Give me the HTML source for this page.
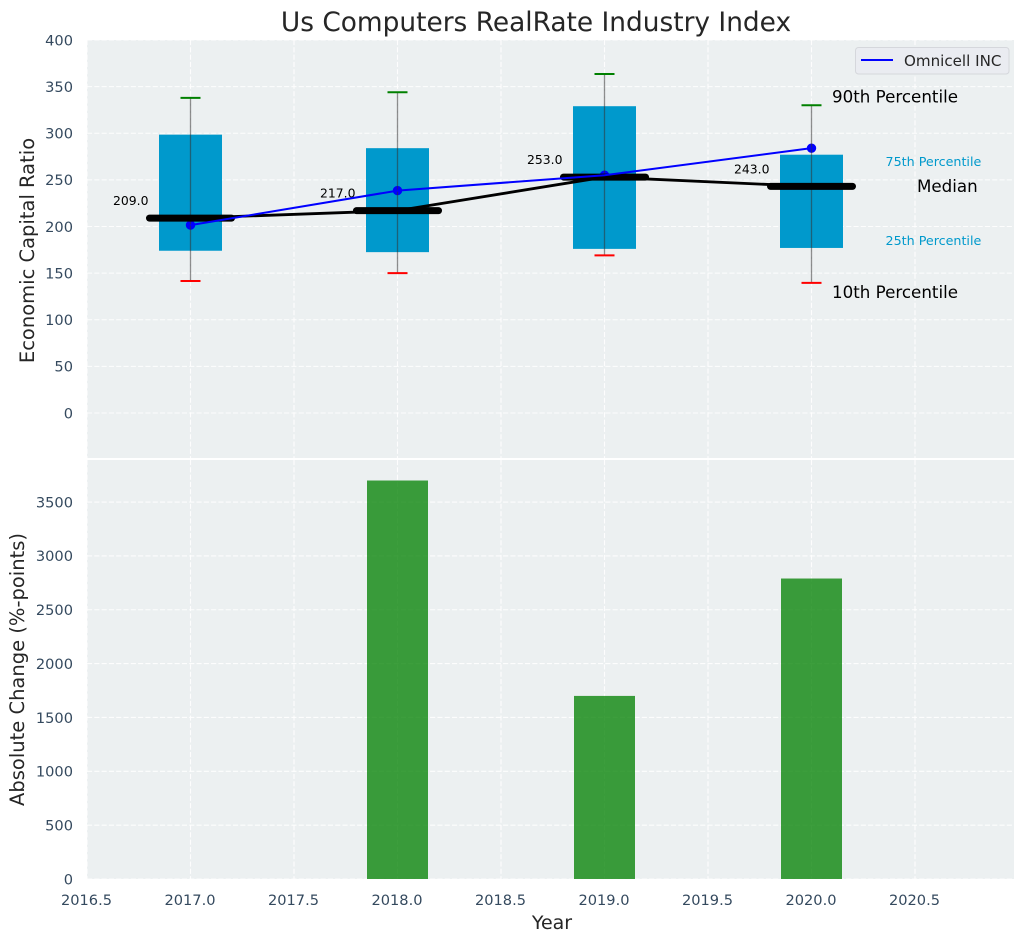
<!DOCTYPE html>
<html>
<head>
<meta charset="utf-8">
<title>Us Computers RealRate Industry Index</title>
<style>
html,body{margin:0;padding:0;background:#fff;width:1026px;height:942px;overflow:hidden}
svg{display:block}
text{font-family:"DejaVu Sans","Liberation Sans",sans-serif}
</style>
</head>
<body>
<svg id="chart" xmlns="http://www.w3.org/2000/svg" width="1026" height="942" viewBox="0 0 1026 942">
  <rect x="87" y="40" width="927" height="418" fill="#ecf0f1"/>
  <rect x="87" y="460" width="927" height="419" fill="#ecf0f1"/>
  <g id="grid"></g>
  <g id="top-marks"></g>
  <g id="bottom-marks"></g>
  <g id="ticks"></g>
  <text x="536" y="31" text-anchor="middle" font-size="26.4" fill="#262626">Us Computers RealRate Industry Index</text>
  <text transform="translate(34 250.5) rotate(-90)" text-anchor="middle" font-size="19.5" fill="#262626">Economic Capital Ratio</text>
  <text transform="translate(24 669.5) rotate(-90)" text-anchor="middle" font-size="19.5" fill="#262626">Absolute Change (%-points)</text>
  <text x="552" y="929" text-anchor="middle" font-size="19" fill="#262626">Year</text>
  <g>
    <rect x="855.5" y="47.5" width="153.5" height="26.5" rx="3" fill="#eaecf1" stroke="#d5d7dc" stroke-width="1"/>
    <line x1="861" x2="893" y1="60" y2="60" stroke="#0000ff" stroke-width="2"/>
    <text x="904" y="66" font-size="15.1" fill="#262626">Omnicell INC</text>
  </g>
</svg>
<script>
const years = [2017, 2018, 2019, 2020];
const p90 = [338, 344, 363.5, 330];
const p75 = [298.5, 284, 329, 277];
const medians = [209, 217, 253, 243];
const p25 = [174, 172.5, 176, 177];
const p10 = [141.5, 150, 169, 139.5];
const companyValues = [201.5, 238.5, 255, 284];
const changeYears = [2018, 2019, 2020];
const changeValues = [3700, 1700, 2790];
const xTicks = [2016.5, 2017, 2017.5, 2018, 2018.5, 2019, 2019.5, 2020, 2020.5];
const topYTicks = [0, 50, 100, 150, 200, 250, 300, 350, 400];
const bottomYTicks = [0, 500, 1000, 1500, 2000, 2500, 3000, 3500];

const NS = 'http://www.w3.org/2000/svg';
function xs(v) { return 87 + (v - 2016.5) * 207; }
function yTop(v) { return 413 - v * 0.9325; }
function yBot(v) { return 879 - v * 0.1077; }
function mk(parent, tag, attrs, txt) {
  const el = document.createElementNS(NS, tag);
  for (const k in attrs) el.setAttribute(k, attrs[k]);
  if (txt !== undefined) el.textContent = txt;
  parent.appendChild(el);
  return el;
}
const grid = document.getElementById('grid');
const top_ = document.getElementById('top-marks');
const bot = document.getElementById('bottom-marks');
const ticks = document.getElementById('ticks');
const gridStyle = { stroke: '#ffffff', 'stroke-width': 1.1, 'stroke-dasharray': '5.1 2.2', opacity: 0.9 };
const tickFont = 14.6;

xTicks.forEach(function (t) {
  const a = mk(grid, 'line', Object.assign({ x1: xs(t), x2: xs(t), y1: 40, y2: 458 }, gridStyle));
  
  
  const b = mk(grid, 'line', Object.assign({ x1: xs(t), x2: xs(t), y1: 460, y2: 879 }, gridStyle));
  
  
  const l = mk(ticks, 'text', { x: xs(t) - 0.5, y: 905, 'text-anchor': 'middle', 'font-size': tickFont, fill: '#34495e' }, t.toFixed(1));
  
  
});
topYTicks.forEach(function (t) {
  const g = mk(grid, 'line', Object.assign({ x1: 87, x2: 1014, y1: yTop(t), y2: yTop(t) }, gridStyle));
  
  
  const l = mk(ticks, 'text', { x: 73, y: yTop(t) + 5.3, 'text-anchor': 'end', 'font-size': tickFont, fill: '#34495e' }, String(t));
  
  
});
bottomYTicks.forEach(function (t) {
  const g = mk(grid, 'line', Object.assign({ x1: 87, x2: 1014, y1: yBot(t), y2: yBot(t) }, gridStyle));
  
  
  const l = mk(ticks, 'text', { x: 73, y: yBot(t) + 5.3, 'text-anchor': 'end', 'font-size': tickFont, fill: '#34495e' }, String(t));
  
  
});

/* boxes */
years.forEach(function (yr, i) {
  const box = mk(top_, 'rect', { x: xs(yr) - 31.5, y: yTop(p75[i]), width: 63, height: yTop(p25[i]) - yTop(p75[i]), fill: '#0099cc' });
  
  
});
/* company markers sit below the medians */
years.forEach(function (yr, i) {
  const d = mk(top_, 'circle', { cx: xs(yr), cy: yTop(companyValues[i]), r: 4.7, fill: '#0000ff' });
  
  
});
/* whiskers */
years.forEach(function (yr, i) {
  const w = mk(top_, 'line', { x1: xs(yr), x2: xs(yr), y1: yTop(p90[i]), y2: yTop(p10[i]), stroke: '#333333', 'stroke-opacity': 0.55, 'stroke-width': 1.3 });
  
  
  const c1 = mk(top_, 'line', { x1: xs(yr) - 10, x2: xs(yr) + 10, y1: yTop(p90[i]), y2: yTop(p90[i]), stroke: '#008000', 'stroke-width': 2 });
  
  
  const c2 = mk(top_, 'line', { x1: xs(yr) - 10, x2: xs(yr) + 10, y1: yTop(p10[i]), y2: yTop(p10[i]), stroke: '#ff0000', 'stroke-width': 2 });
  
  
});
/* median connection */
const medLine = mk(top_, 'polyline', { points: years.map(function (yr, i) { return xs(yr) + ',' + yTop(medians[i]); }).join(' '), fill: 'none', stroke: '#000000', 'stroke-width': 2.8 });


years.forEach(function (yr, i) {
  const m = mk(top_, 'line', { x1: xs(yr) - 41, x2: xs(yr) + 41, y1: yTop(medians[i]), y2: yTop(medians[i]), stroke: '#000000', 'stroke-width': 7, 'stroke-linecap': 'round' });
  
  
  const l = mk(top_, 'text', { x: xs(yr) - 77.5, y: yTop(medians[i]) - 13, 'font-size': 12.4, fill: '#000000' }, medians[i].toFixed(1));
  
  
});
/* company line */
const compLine = mk(top_, 'polyline', { points: years.map(function (yr, i) { return xs(yr) + ',' + yTop(companyValues[i]); }).join(' '), fill: 'none', stroke: '#0000ff', 'stroke-width': 2 });



/* percentile annotations attached to last year */
const li = years.length - 1;
const lx = xs(years[li]);
const a90 = mk(top_, 'text', { x: lx + 20.5, y: yTop(p90[li]) - 3, 'font-size': 16.7, fill: '#000000' }, '90th Percentile');


const a75 = mk(top_, 'text', { x: lx + 74, y: yTop(p75[li]) + 11.5, 'font-size': 12.7, fill: '#0099cc' }, '75th Percentile');


const aMed = mk(top_, 'text', { x: lx + 105.5, y: yTop(medians[li]) + 5.8, 'font-size': 16.7, fill: '#000000' }, 'Median');


const a25 = mk(top_, 'text', { x: lx + 74, y: yTop(p25[li]) - 3, 'font-size': 12.7, fill: '#0099cc' }, '25th Percentile');


const a10 = mk(top_, 'text', { x: lx + 20.5, y: yTop(p10[li]) + 15, 'font-size': 16.7, fill: '#000000' }, '10th Percentile');



/* bars */
changeYears.forEach(function (yr, i) {
  const b = mk(bot, 'rect', { x: xs(yr) - 30.5, y: yBot(changeValues[i]), width: 61, height: yBot(0) - yBot(changeValues[i]), fill: '#008000', 'fill-opacity': 0.76 });
  
  
});
</script>
</body>
</html>
